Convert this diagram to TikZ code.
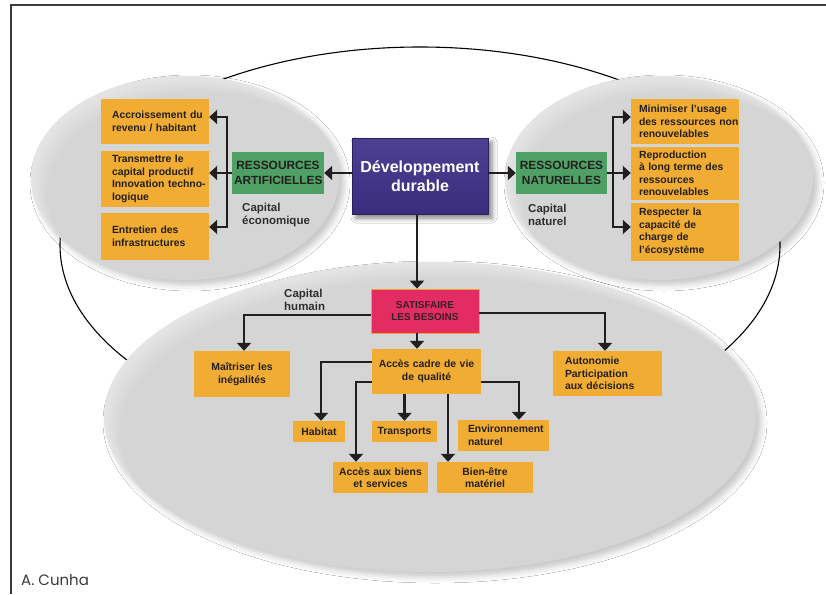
\documentclass[tikz,border=0pt]{standalone}
\usepackage{fontspec}
\setmainfont{Liberation Sans}
\newfontfamily\creditfont{Poppins}
\usetikzlibrary{arrows.meta,shadows.blur}

\definecolor{zonegray}{HTML}{D5D5D5}
\definecolor{boxorange}{HTML}{F1AD33}
\definecolor{boxgreen}{HTML}{4EA064}
\definecolor{boxpink}{HTML}{E32D62}
\definecolor{pinkedge}{HTML}{F0A238}
\definecolor{deeppurple}{HTML}{3B2D7D}
\definecolor{lightpurple}{HTML}{4E3F93}
\definecolor{purpleedge}{HTML}{2A1F5E}
\definecolor{inkdark}{HTML}{231F20}
\definecolor{labelgray}{HTML}{2E2E2E}
\definecolor{framegray}{HTML}{3A3A3A}

\newcommand\bxfont{\fontsize{10.4}{12.5}\selectfont\bfseries}
\newcommand\grfont{\fontsize{11.9}{14.3}\selectfont\bfseries}
\newcommand\pkfont{\fontsize{10}{12.4}\selectfont\bfseries}
\newcommand\ddfont{\fontsize{16}{19}\selectfont\bfseries}
\newcommand\lbfont{\fontsize{11.5}{13.3}\selectfont\bfseries}

\begin{document}
\begin{tikzpicture}[x=1pt,y=-1pt,
  zone/.style={fill=zonegray,
    blur shadow={shadow xshift=5pt, shadow yshift=-5pt,
      shadow blur radius=6pt, shadow opacity=22}},
  obox/.style={fill=boxorange, text=inkdark, font=\bxfont,
    inner ysep=0pt, align=left},
  obc/.style={obox, align=center, inner xsep=2pt},
  gbox/.style={fill=boxgreen, text=inkdark, font=\grfont, align=center,
    inner xsep=2pt, inner ysep=0pt},
  caplabel/.style={text=labelgray, font=\lbfont, align=left, inner sep=0pt, anchor=west},
  lin/.style={line width=2.2pt, draw=inkdark},
  arr/.style={lin, -{Triangle[width=14pt,length=8pt]}}
]
\useasboundingbox (0,0) rectangle (826,594);
\fill[white] (0,0) rectangle (826,594);

% page frame
\draw[framegray, line width=1.4pt] (826,5) -- (11,5) -- (11,594);

% loop joining the three capitals
\draw[black, line width=1.1pt] (420,245) ellipse [x radius=360, y radius=198];

% the three capital zones, each with a soft light rim at its upper left
\foreach \cx/\cy/\rx/\ry in {185/178/154/102, 659/178/154/102, 430/417/326/155}{
  \fill[zone] (\cx,\cy) ellipse [x radius=\rx, y radius=\ry];
  \begin{scope}
    \clip (\cx,\cy) ellipse [x radius=\rx, y radius=\ry];
    \foreach \d in {2,4,...,16}
      \fill[white, opacity=0.07, even odd rule] (0,0) rectangle (826,594)
        ([shift={(\d,\d)}]\cx,\cy) ellipse [x radius=\rx, y radius=\ry];
  \end{scope}
}

% centre
\node[draw=purpleedge, line width=0.6pt, top color=lightpurple, bottom color=deeppurple,
  text=white, font=\ddfont, align=center, minimum width=136pt, minimum height=76pt,
  inner sep=0pt,
  blur shadow={shadow xshift=4pt, shadow yshift=-4pt, shadow blur radius=5pt, shadow opacity=50}]
  (dd) at (420,176) {Développement\\durable};

% economic capital
\node[gbox, text width=88pt, minimum height=42pt] (gL) at (278,173) {RESSOURCES\\ARTIFICIELLES};
\node[caplabel] (capE) at (242,215) {Capital\\économique};
\node[obox, text width=86pt, inner xsep=11pt, minimum height=45pt] (l1) at (155,121.5)
  {\mbox{Accroissement du}\\\mbox{revenu / habitant}};
\node[obox, text width=86pt, inner xsep=11pt, minimum height=56pt] (l2) at (155,179)
  {\mbox{Transmettre le}\\\mbox{capital productif}\\\mbox{Innovation techno-}\\\mbox{logique}};
\node[obox, text width=86pt, inner xsep=11pt, minimum height=47pt] (l3) at (155,236.5)
  {\mbox{Entretien des}\\\mbox{infrastructures}};

% natural capital
\node[gbox, text width=87pt, minimum height=42pt] (gR) at (561.5,173) {RESSOURCES\\NATURELLES};
\node[caplabel] (capN) at (528,215) {Capital\\naturel};
\node[obox, text width=92pt, inner xsep=8pt, minimum height=45pt] (r1) at (685,121.5)
  {\mbox{Minimiser l'usage}\\\mbox{des ressources non}\\\mbox{renouvelables}};
\node[obox, text width=92pt, inner xsep=8pt, minimum height=53pt] (r2) at (685,173.5)
  {\mbox{Reproduction}\\\mbox{à long terme des}\\\mbox{ressources}\\\mbox{renouvelables}};
\node[obox, text width=92pt, inner xsep=8pt, minimum height=58pt] (r3) at (685,232)
  {\mbox{Respecter la}\\\mbox{capacité de}\\\mbox{charge de}\\\mbox{l'écosystème}};

% human capital
\node[draw=pinkedge, line width=0.8pt, fill=boxpink, text=inkdark!90!boxpink, font=\pkfont,
  align=center, minimum width=108pt, minimum height=44pt, inner sep=0pt]
  (sat) at (425,311) {SATISFAIRE\\LES BESOINS};
\node[caplabel] (capH) at (284,300) {Capital\\humain};
\node[obc, text width=92pt, minimum height=46pt] (mai) at (242,374) {Maîtriser les\\inégalités};
\node[obox, text width=85pt, inner xsep=12pt, minimum height=45pt] (aut) at (607.5,373.5)
  {\mbox{Autonomie}\\\mbox{Participation}\\\mbox{aux décisions}};
\node[obc, text width=105pt, minimum height=45pt] (acc) at (426.5,371.5) {Accès cadre de vie\\de qualité};
\node[obc, text width=48pt, minimum height=21pt] (hab) at (319,431.5) {Habitat};
\node[obc, text width=61pt, minimum height=21pt] (tra) at (404.5,431.5) {Transports};
\node[obc, text width=91pt, minimum height=31pt] (bie) at (380.5,477.5) {Accès aux biens\\et services};
\node[obc, text width=92pt, minimum height=31pt] (bet) at (485,477.5) {Bien-être\\matériel};
\node[obox, text width=71pt, inner xsep=10pt, minimum height=31pt] (env) at (503.5,435.5)
  {\mbox{Environnement}\\\mbox{naturel}};

% connectors from the centre
\draw[arr] (dd.west |- gL) -- (gL.east);
\draw[arr] (dd.east |- gR) -- (gR.west);
\draw[arr] ([xshift=-3pt]dd.south) -- ([xshift=-3pt]dd.south |- sat.north);

% economic branches
\coordinate (bl1) at (227,117);
\coordinate (bl3) at (227,227);
\draw[arr] (bl3) -- (bl1) -- (bl1 -| l1.east);
\draw[arr] (bl1) -- (bl3) -- (bl3 -| l3.east);
\draw[arr] (gL.west) -- (gL.west -| l2.east);

% natural branches
\coordinate (br1) at (613,117);
\coordinate (br3) at (613,227);
\draw[arr] (br3) -- (br1) -- (br1 -| r1.west);
\draw[arr] (br1) -- (br3) -- (br3 -| r3.west);
\draw[arr] (gR.east) -- (gR.east -| r2.west);

% human branches
\draw[arr] ([yshift=-4pt]sat.west) -| ([xshift=2pt]mai.north);
\draw[arr] ([yshift=-2pt]sat.east) -| ([xshift=-2.5pt]aut.north);
\draw[arr] ([xshift=-8pt]sat.south) -- ([xshift=-8pt]sat.south |- acc.north);
\draw[arr] ([yshift=9.5pt]acc.west) -| ([xshift=2pt]hab.north);
\draw[arr] ([yshift=-10.5pt]acc.west) -| ([xshift=-24.5pt]bie.north);
\draw[arr] (acc.south -| tra.north) -- (tra.north);
\draw[arr] ([xshift=21.5pt]acc.south) -- ([xshift=21.5pt]acc.south |- bet.north);
\draw[arr] ([yshift=-10.5pt]acc.east) -| ([xshift=15.5pt]env.north);

% credit
\node[anchor=west, inner sep=0pt, text=framegray, font=\creditfont\fontsize{15}{18}\selectfont]
  (credit) at (21,580) {A. Cunha};
\end{tikzpicture}
\end{document}
